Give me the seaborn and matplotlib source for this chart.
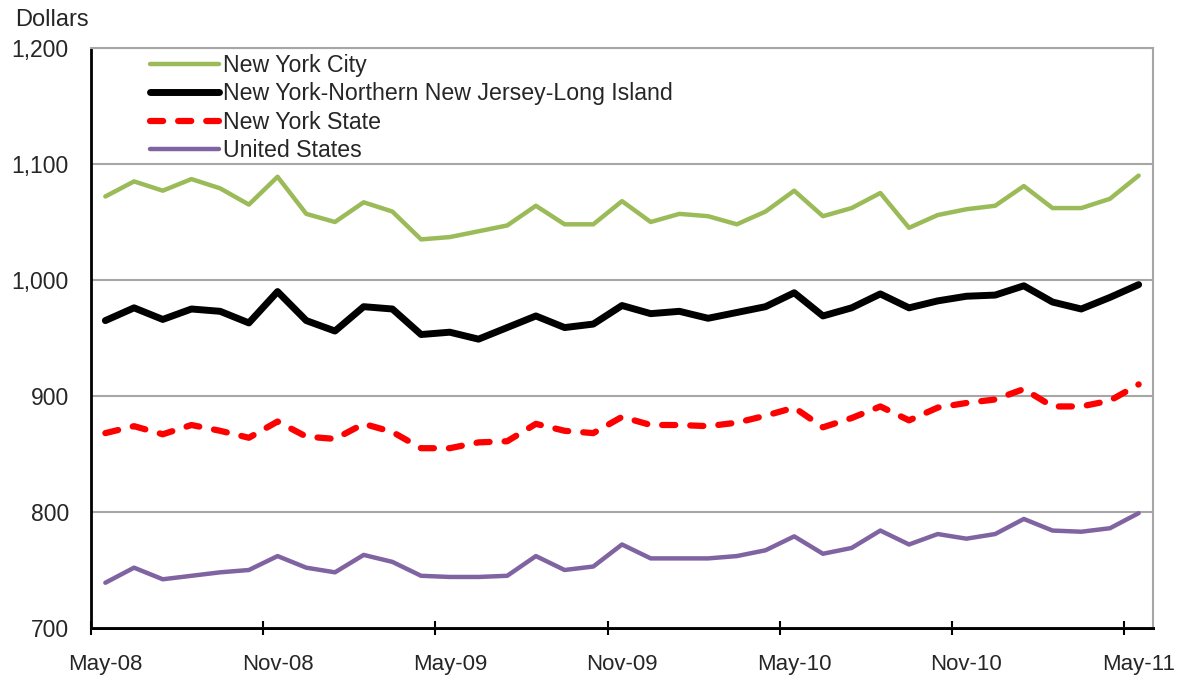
import numpy as np
import pandas as pd
import matplotlib
matplotlib.use('Agg')
import matplotlib.pyplot as plt
import seaborn as sns

# Monthly categories, May-08 .. May-11
months = pd.date_range('2008-05-01', '2011-05-01', freq='MS').strftime('%b-%y').tolist()

nyc = [1072, 1085, 1077, 1087, 1079, 1065, 1089, 1057, 1050, 1067,
       1059, 1035, 1037, 1042, 1047, 1064, 1048, 1048, 1068, 1050,
       1057, 1055, 1048, 1059, 1077, 1055, 1062, 1075, 1045, 1056,
       1061, 1064, 1081, 1062, 1062, 1070, 1090]
metro = [965, 976, 966, 975, 973, 963, 990, 965, 956, 977,
         975, 953, 955, 949, 959, 969, 959, 962, 978, 971,
         973, 967, 972, 977, 989, 969, 976, 988, 976, 982,
         986, 987, 995, 981, 975, 985, 996]
state = [868, 874, 867, 875, 870, 864, 878, 865, 863, 876,
         869, 855, 855, 860, 861, 876, 870, 868, 882, 875,
         875, 874, 877, 883, 890, 873, 881, 891, 879, 890,
         894, 897, 906, 891, 891, 896, 910]
us = [739, 752, 742, 745, 748, 750, 762, 752, 748, 763,
      757, 745, 744, 744, 745, 762, 750, 753, 772, 760,
      760, 760, 762, 767, 779, 764, 769, 784, 772, 781,
      777, 781, 794, 784, 783, 786, 799]

series_names = ['New York City', 'New York-Northern New Jersey-Long Island',
                'New York State', 'United States']
y_ticks = [700, 800, 900, 1000, 1100, 1200]

sns.set_style('white')
plt.rcParams['font.family'] = ['Liberation Sans', 'DejaVu Sans']

fig = plt.figure(figsize=(11.8, 6.75), dpi=100)
ax = fig.add_axes([91 / 1180, 1 - 628 / 675, 1062 / 1180, 580 / 675])

idx = np.arange(len(months))
sns.lineplot(x=idx, y=nyc, ax=ax, color='#9BBB59', lw=3.2, label=series_names[0])
sns.lineplot(x=idx, y=metro, ax=ax, color='black', lw=5, label=series_names[1])
sns.lineplot(x=idx, y=state, ax=ax, color='#FF0000', lw=4.5, label=series_names[2],
             linestyle=(0, (2.1, 2.4)), dash_capstyle='round')
sns.lineplot(x=idx, y=us, ax=ax, color='#8064A2', lw=3.2, label=series_names[3])

ax.set_xlim(-0.5, len(months) - 0.5)
ax.set_ylim(700, 1200)
ax.set_yticks(y_ticks)
ax.set_yticklabels([f'{v:,}' for v in y_ticks], fontsize=16.5)
ax.yaxis.grid(True, color='#A6A6A6', lw=1.5)
ax.set_axisbelow(True)
ax.tick_params(axis='y', length=0, pad=16)

# labels in category centres, ticks on category boundaries
lab_pos = idx[::6]
ax.set_xticks(lab_pos)
ax.set_xticklabels([months[i] for i in lab_pos], fontsize=16)
ax.tick_params(axis='x', which='major', length=0, pad=19)
ax.set_xticks(np.arange(-0.5, len(months) - 0.5, 1), minor=True)
ax.tick_params(axis='x', which='minor', direction='in', length=3.5, width=1.5, color='black')

sec = ax.secondary_xaxis('bottom')
sec.set_xticks(np.arange(-0.5, len(months) - 0.5, 6))
sec.set_xticklabels([])
sec.tick_params(direction='inout', length=10, width=1.5, color='black')
sec.spines['bottom'].set_color('black')
sec.spines['bottom'].set_linewidth(2)

for side in ['left', 'bottom']:
    ax.spines[side].set_color('black')
    ax.spines[side].set_linewidth(2)
for side in ['top', 'right']:
    ax.spines[side].set_color('#A6A6A6')
    ax.spines[side].set_linewidth(1.5)

ax.set_xlabel('')
ax.set_ylabel('')
leg = ax.legend(loc='upper left', bbox_to_anchor=(0.042, 1.014), frameon=False,
                fontsize=16.7, handlelength=3.0, handletextpad=0.15, labelspacing=0.24,
                borderaxespad=0.2)

fig.text(15 / 1180, 1 - 20 / 675, 'Dollars', fontsize=17, va='center', ha='left')

plt.savefig('out.png', dpi=100)
plt.close()
